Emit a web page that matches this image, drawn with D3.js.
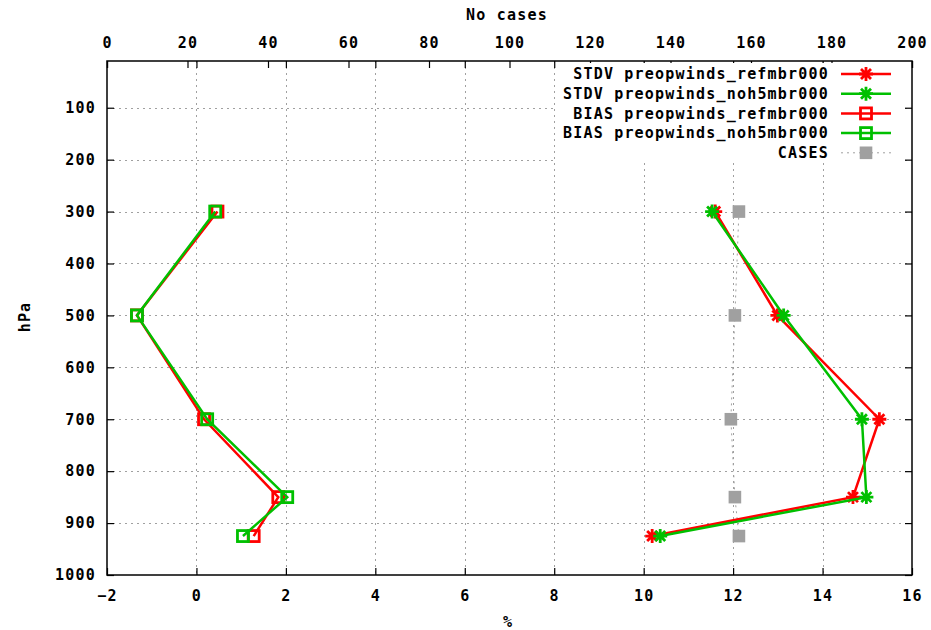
<!DOCTYPE html>
<html>
<head>
<meta charset="utf-8">
<script src="https://cdn.jsdelivr.net/npm/d3@7"></script>
<style>
  body { margin: 0; background: #fff; }
  text { font-family: "DejaVu Sans Mono", monospace; font-weight: bold; font-size: 15px; letter-spacing: 1.2px; fill: #000; }
</style>
</head>
<body>
<div id="chart"></div>
<script>
// pressure levels (hPa)
const levels = [300, 500, 700, 850, 925];
// values in %
const stdvRef = [11.60, 12.99, 15.27, 14.68, 10.19];
const stdvNoh5 = [11.53, 13.13, 14.88, 14.98, 10.37];
const biasRef = [0.47, -1.33, 0.17, 1.83, 1.28];
const biasNoh5 = [0.42, -1.33, 0.24, 2.03, 1.04];
// number of cases (top axis)
const cases = [157, 156, 155, 156, 157];

const xTicks = [-2, 0, 2, 4, 6, 8, 10, 12, 14, 16];
const x2Ticks = [0, 20, 40, 60, 80, 100, 120, 140, 160, 180, 200];
const yTicks = [100, 200, 300, 400, 500, 600, 700, 800, 900, 1000];

const legendLabels = [
    'STDV preopwinds_refmbr000',
    'STDV preopwinds_noh5mbr000',
    'BIAS preopwinds_refmbr000',
    'BIAS preopwinds_noh5mbr000',
    'CASES'
];

const RED = '#ff0000', GREEN = '#00c000', GREY = '#a0a0a0';

const svgWidth = 931, svgHeight = 630;
const margin = {top: 61, right: 19, bottom: 55, left: 107};
const width = svgWidth - margin.left - margin.right;
const height = svgHeight - margin.top - margin.bottom;

const svg = d3.select('#chart').append('svg')
    .attr('width', svgWidth)
    .attr('height', svgHeight);

const g = svg.append('g').attr('transform', `translate(${margin.left},${margin.top})`);

const xScale = d3.scaleLinear().domain([-2, 16]).range([0, width]);
const x2Scale = d3.scaleLinear().domain([0, 200]).range([0, width]);
const yScale = d3.scaleLinear().domain([10, 1000]).range([0, height]);

// grid
const grid = g.append('g').attr('class', 'grid')
    .attr('stroke', GREY).attr('stroke-width', 1).attr('stroke-dasharray', '2,4');
grid.selectAll('.vgrid').data(xTicks.slice(1, -1)).enter().append('line')
    .attr('x1', d => Math.round(xScale(d)) + 0.5).attr('x2', d => Math.round(xScale(d)) + 0.5)
    .attr('y1', 0).attr('y2', height);
grid.selectAll('.hgrid').data(yTicks.slice(0, -1)).enter().append('line')
    .attr('x1', 0).attr('x2', width)
    .attr('y1', d => Math.round(yScale(d)) + 0.5).attr('y2', d => Math.round(yScale(d)) + 0.5);

// axes (ticks pointing inward, like gnuplot)
const tickLen = 7;
const xAxis = d3.axisBottom(xScale).tickValues(xTicks).tickSize(-tickLen).tickPadding(14).tickFormat(d3.format('d'));
const xAxisMirror = d3.axisTop(xScale).tickValues(xTicks).tickSize(-tickLen).tickFormat('');
const x2Axis = d3.axisTop(x2Scale).tickValues(x2Ticks).tickSize(-tickLen).tickPadding(14).tickFormat(d3.format('d'));
const yAxis = d3.axisLeft(yScale).tickValues(yTicks).tickSize(-tickLen).tickPadding(11).tickFormat(d3.format('d'));
const yAxisMirror = d3.axisRight(yScale).tickValues(yTicks).tickSize(-tickLen).tickFormat('');

function styleAxis(sel) {
    sel.select('.domain').remove();
    sel.selectAll('.tick line').attr('stroke', '#000').attr('stroke-width', 1.2);
    sel.selectAll('.tick text').attr('font-family', null).attr('font-size', null);
}

g.append('g').attr('transform', `translate(0,${height})`).call(xAxis).call(styleAxis)
    .selectAll('.tick text').attr('dy', '0.35em').attr('y', 21);
g.append('g').call(xAxisMirror).call(styleAxis);
g.append('g').call(x2Axis).call(styleAxis)
    .selectAll('.tick text').attr('dy', '0.35em').attr('y', -18);
g.append('g').call(yAxis).call(styleAxis);
g.append('g').attr('transform', `translate(${width},0)`).call(yAxisMirror).call(styleAxis);

// legend box (opaque, hides grid)
const legendX = 449, legendY = 2;
g.append('rect').attr('x', legendX).attr('y', legendY).attr('width', 349).attr('height', 98).attr('fill', '#fff');

// frame
g.append('rect').attr('x', 0).attr('y', 0).attr('width', width).attr('height', height)
    .attr('fill', 'none').attr('stroke', '#000').attr('stroke-width', 1.5);

// axis titles
svg.append('text').attr('x', 507).attr('y', 15).attr('dy', '0.35em').attr('text-anchor', 'middle').text('No cases');
svg.append('text').attr('x', 508).attr('y', 622).attr('dy', '0.35em').attr('text-anchor', 'middle').text('%');
svg.append('text').attr('transform', 'translate(25,317) rotate(-90)').attr('dy', '0.35em').attr('text-anchor', 'middle').text('hPa');

// markers
function star(sel, color) {
    sel.append('path')
        .attr('d', 'M-7,0H7M0,-7V7M-5,-5L5,5M-5,5L5,-5')
        .attr('stroke', color).attr('stroke-width', 2.8).attr('fill', 'none');
}
function openSquare(sel, color) {
    sel.append('rect').attr('x', -5.5).attr('y', -5.5).attr('width', 11).attr('height', 11)
        .attr('stroke', color).attr('stroke-width', 2.8).attr('fill', 'none');
}
function filledSquare(sel, color) {
    sel.append('rect').attr('x', -6.3).attr('y', -6.3).attr('width', 12.6).attr('height', 12.6)
        .attr('fill', color);
}

const series = [
    {values: stdvRef, scale: xScale, color: RED, marker: star, dash: null, width: 2.5},
    {values: stdvNoh5, scale: xScale, color: GREEN, marker: star, dash: null, width: 2.5},
    {values: biasRef, scale: xScale, color: RED, marker: openSquare, dash: null, width: 2.5},
    {values: biasNoh5, scale: xScale, color: GREEN, marker: openSquare, dash: null, width: 2.5},
    {values: cases, scale: x2Scale, color: GREY, marker: filledSquare, dash: '2,4', width: 1}
];

const plot = g.append('g').attr('class', 'plot');
// cases first so coloured lines sit over it
[4, 0, 1, 2, 3].forEach(i => {
    const s = series[i];
    const pts = levels.map((lev, j) => [s.scale(s.values[j]), yScale(lev)]);
    plot.append('path')
        .attr('d', d3.line()(pts))
        .attr('fill', 'none')
        .attr('stroke', s.color)
        .attr('stroke-width', s.width)
        .attr('stroke-dasharray', s.dash);
    pts.forEach(p => {
        plot.append('g').attr('transform', `translate(${p[0]},${p[1]})`).call(s.marker, s.color);
    });
});

// legend entries
const legend = g.append('g').attr('class', 'legend');
legendLabels.forEach((lab, i) => {
    const s = series[i];
    const y = 13 + i * 19.7;
    legend.append('text').attr('x', 722).attr('y', y).attr('dy', '0.35em').attr('text-anchor', 'end').text(lab);
    legend.append('line').attr('x1', 734).attr('x2', 784).attr('y1', y).attr('y2', y)
        .attr('stroke', s.color).attr('stroke-width', s.width).attr('stroke-dasharray', s.dash);
    legend.append('g').attr('transform', `translate(759,${y})`).call(s.marker, s.color);
});
</script>
</body>
</html>
